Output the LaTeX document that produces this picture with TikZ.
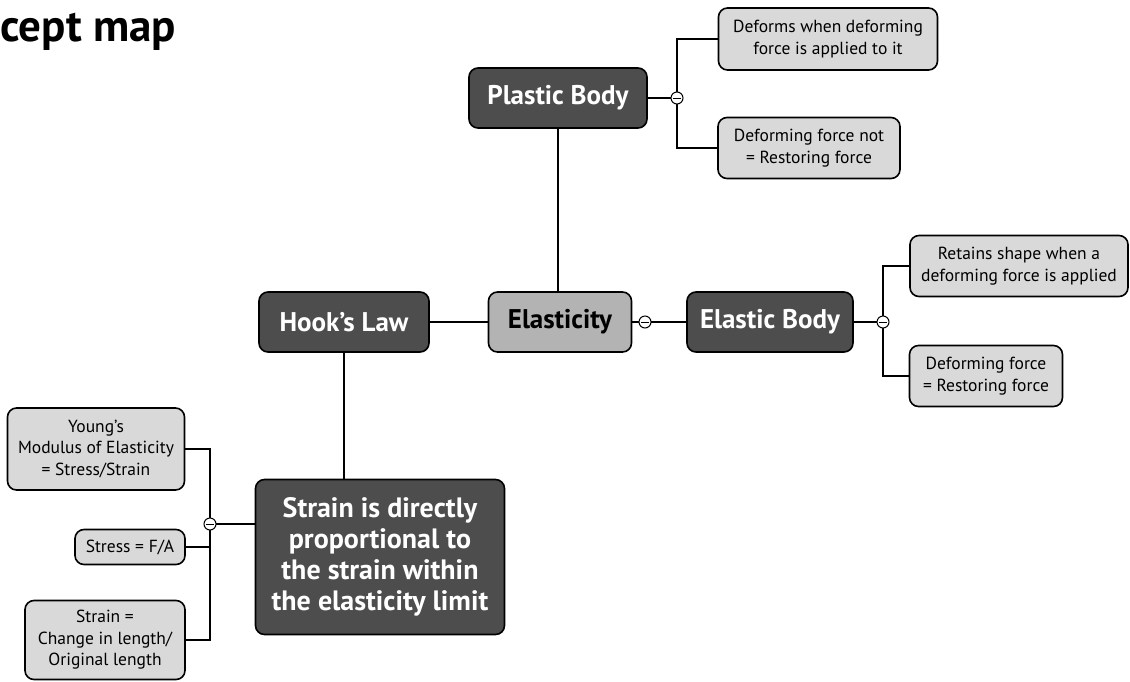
\documentclass[tikz,border=0pt]{standalone}
\usepackage{fontspec}
\setmainfont{PT Sans}
\usepackage{tikz}
\usetikzlibrary{positioning,calc}
\definecolor{darkfill}{HTML}{4D4D4D}
\definecolor{midfill}{HTML}{B3B3B3}
\definecolor{leaffill}{HTML}{D9D9D9}

\begin{document}
\begin{tikzpicture}[x=1pt, y=-1pt,
  box/.style={draw, line width=1.6pt, rounded corners=9pt, align=center, inner sep=0pt},
  dark/.style={box, fill=darkfill, text=white, font=\bfseries\fontsize{27}{32}\selectfont},
  mid/.style={box, fill=midfill, font=\bfseries\fontsize{27}{32}\selectfont},
  leaf/.style={box, fill=leaffill, font=\fontsize{17.5}{21.5}\selectfont},
  knob/.style={circle, draw, fill=white, line width=1pt, minimum size=12pt, inner sep=0pt,
    path picture={\draw[line width=0.8pt] ([xshift=2pt]path picture bounding box.west)
      -- ([xshift=-2pt]path picture bounding box.east);}}]
  \useasboundingbox (0,0) rectangle (1130,681);
  \node (T) [anchor=base west, inner sep=0pt, font=\bfseries\fontsize{45}{50}\selectfont] at (0,41) {cept map};

  \node (El) [mid, minimum width=143pt, minimum height=60pt] at (560,322) {Elasticity};
  \node (HL) [dark, minimum width=170pt, minimum height=60pt] at (344,322) {Hook’s Law};
  \node (EB) [dark, minimum width=166pt, minimum height=60pt] at (770,322) {Elastic Body};
  \node (PB) [dark, minimum width=178pt, minimum height=60pt] at (558,98) {Plastic Body};
  \node (SP) [dark, minimum width=249pt, minimum height=155pt, font=\bfseries\fontsize{28}{31}\selectfont]
    at (380,557) {Strain is directly\\proportional to\\the strain within\\the elasticity limit};

  \node (P1) [leaf, minimum width=219pt, minimum height=62pt] at (828,39) {Deforms when deforming\\force is applied to it};
  \node (P2) [leaf, minimum width=182pt, minimum height=61pt] at (809,148) {Deforming force not\\= Restoring force};
  \node (R1) [leaf, minimum width=218pt, minimum height=61pt] at (1019,266) {Retains shape when a\\deforming force is applied};
  \node (R2) [leaf, minimum width=153pt, minimum height=61pt] at (986,376) {Deforming force\\= Restoring force};
  \node (Y) [leaf, minimum width=177pt, minimum height=82pt] at (96,449) {Young’s\\Modulus of Elasticity\\= Stress/Strain};
  \node (St) [leaf, minimum width=110pt, minimum height=35pt] at (130,547) {Stress = F/A};
  \node (Sn) [leaf, minimum width=160pt, minimum height=79pt] at (105,640) {Strain =\\Change in length/\\Original length};

  \draw[line width=1.6pt] (PB.south) -- (PB.south |- El.north);
  \draw[line width=1.6pt] (HL) -- (El);
  \draw[line width=1.6pt] (HL.south) -- (HL.south |- SP.north);
  \draw[line width=1.6pt] (El) -- (EB);
  \node (k1) [knob] at (645,322) {};

  \draw[line width=1.6pt] (EB) -- (883,322) coordinate (c2);
  \draw[line width=1.6pt] (R1.west) -| (c2) |- (R2.west);
  \node (k2) [knob] at (c2) {};

  \draw[line width=1.6pt] (PB) -- (677,98) coordinate (c3);
  \draw[line width=1.6pt] (P1.west) -| (c3) |- (P2.west);
  \node (k3) [knob] at (c3) {};

  \draw[line width=1.6pt] (210,524) coordinate (c4) -- (c4 -| SP.west);
  \draw[line width=1.6pt] (Y.east) -| (c4) |- (Sn.east);
  \draw[line width=1.6pt] (St.east) -- (St.east -| c4);
  \node (k4) [knob] at (c4) {};
\end{tikzpicture}
\end{document}
